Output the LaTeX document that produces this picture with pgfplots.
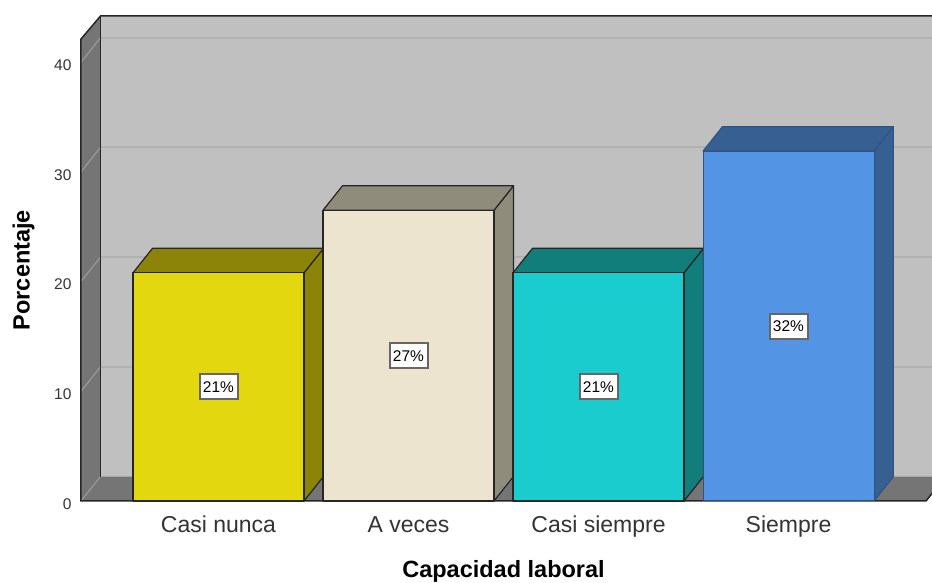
\documentclass[border=0pt]{standalone}
\usepackage{pgfplots}
\pgfplotsset{compat=1.18}
\usepackage{fontspec}
\setmainfont{Liberation Sans}
\definecolor{wallc}{HTML}{C0C0C0}
\definecolor{sidec}{HTML}{757575}
\definecolor{gridc}{HTML}{B2B2B2}
\definecolor{gridd}{HTML}{999999}
\definecolor{yelF}{HTML}{E3D80F}
\definecolor{yelD}{HTML}{8C8408}
\definecolor{creF}{HTML}{ECE4CF}
\definecolor{creD}{HTML}{908C7C}
\definecolor{teaF}{HTML}{1ACCCE}
\definecolor{teaD}{HTML}{117E7C}
\definecolor{bluF}{HTML}{5394E5}
\definecolor{bluD}{HTML}{365F92}
\definecolor{bluE}{HTML}{2F5380}
\definecolor{txt}{HTML}{333333}
\begin{document}
\begin{tikzpicture}[x=1pt,y=1pt]
\useasboundingbox (-81pt,-82pt) rectangle (851pt,501pt);
\begin{axis}[
  at={(0pt,0pt)}, anchor=south west,
  scale only axis, width=851pt, height=485pt,
  xmin=-0.7237, xmax=3.7553, ymin=0, ymax=44.21,
  clip=false,
  axis line style={draw=none},
  tick style={draw=none},
  xtick={0,1,2,3},
  xticklabels={Casi nunca,A veces,Casi siempre,Siempre},
  ytick={0,10,20,30,40},
  /pgf/number format/assume math mode=true,
  typeset ticklabels with strut,
  x tick label style={font=\fontsize{23}{25}\selectfont, text=txt, anchor=base, yshift=-32pt},
  y tick label style={font=\fontsize{15.5}{17}\selectfont, text=txt, anchor=east, xshift=-6pt, yshift=-5pt},
  xlabel={Capacidad laboral},
  ylabel={Porcentaje},
  every axis x label/.style={at={(axis description cs:0.4965,-0.1443)}, anchor=center, font=\fontsize{23.5}{26}\selectfont\bfseries},
  every axis y label/.style={at={(axis description cs:-0.0675,0.476)}, anchor=center, rotate=90, font=\fontsize{23.5}{26}\selectfont\bfseries},
]
% room walls and floor
\addplot[fill=wallc, draw=none] coordinates {(-0.6211,2.233) (3.7553,2.233) (3.7553,44.21) (-0.6211,44.21)} -- cycle;
\addplot[fill=sidec, draw=none] coordinates {(-0.7237,0) (-0.6211,2.233) (-0.6211,44.21) (-0.7237,42.11)} -- cycle;
\addplot[fill=sidec, draw=none] coordinates {(-0.7237,0) (3.7237,0) (3.7553,0.687) (3.7553,2.233) (-0.6211,2.233)} -- cycle;
% gridlines on the back wall and their returns on the side wall
\addplot[gridc, line width=1.8pt] coordinates {(-0.6211,12.233) (3.7553,12.233)};
\addplot[gridc, line width=1.8pt] coordinates {(-0.6211,22.233) (3.7553,22.233)};
\addplot[gridc, line width=1.8pt] coordinates {(-0.6211,32.233) (3.7553,32.233)};
\addplot[gridc, line width=1.8pt] coordinates {(-0.6211,42.233) (3.7553,42.233)};
\addplot[gridd, line width=1.2pt] coordinates {(-0.7237,0) (-0.6211,2.233)};
\addplot[gridd, line width=1.2pt] coordinates {(-0.7237,10) (-0.6211,12.233)};
\addplot[gridd, line width=1.2pt] coordinates {(-0.7237,20) (-0.6211,22.233)};
\addplot[gridd, line width=1.2pt] coordinates {(-0.7237,30) (-0.6211,32.233)};
\addplot[gridd, line width=1.2pt] coordinates {(-0.7237,40) (-0.6211,42.233)};
% room outline
\addplot[black!85, line width=1.5pt] coordinates {(3.7553,44.21) (-0.6211,44.21) (-0.7237,42.11) (-0.7237,0) (3.7237,0) (3.7553,0.687)};
\addplot[black!85, line width=1.5pt] coordinates {(-0.6211,44.21) (-0.6211,2.233)};
% Casi nunca
\addplot[fill=yelD, draw=black!85, line width=1.2pt, line join=round] coordinates {(0.45,0) (0.5526,2.233) (0.5526,23.033) (0.45,20.8)} -- cycle;
\addplot[fill=yelD, draw=black!85, line width=1.2pt, line join=round] coordinates {(-0.45,20.8) (0.45,20.8) (0.5526,23.033) (-0.3474,23.033)} -- cycle;
\addplot[fill=yelF, draw=black!85, line width=1.2pt, line join=round] coordinates {(-0.45,0) (0.45,0) (0.45,20.8) (-0.45,20.8)} -- cycle;
% A veces
\addplot[fill=creD, draw=black!85, line width=1.2pt, line join=round] coordinates {(1.45,0) (1.5526,2.233) (1.5526,28.733) (1.45,26.5)} -- cycle;
\addplot[fill=creD, draw=black!85, line width=1.2pt, line join=round] coordinates {(0.55,26.5) (1.45,26.5) (1.5526,28.733) (0.6526,28.733)} -- cycle;
\addplot[fill=creF, draw=black!85, line width=1.2pt, line join=round] coordinates {(0.55,0) (1.45,0) (1.45,26.5) (0.55,26.5)} -- cycle;
% Casi siempre
\addplot[fill=teaD, draw=black!85, line width=1.2pt, line join=round] coordinates {(2.45,0) (2.5526,2.233) (2.5526,23.033) (2.45,20.8)} -- cycle;
\addplot[fill=teaD, draw=black!85, line width=1.2pt, line join=round] coordinates {(1.55,20.8) (2.45,20.8) (2.5526,23.033) (1.6526,23.033)} -- cycle;
\addplot[fill=teaF, draw=black!85, line width=1.2pt, line join=round] coordinates {(1.55,0) (2.45,0) (2.45,20.8) (1.55,20.8)} -- cycle;
% Siempre
\addplot[fill=bluD, draw=bluE, line width=1pt, line join=round] coordinates {(3.45,0) (3.5526,2.233) (3.5526,34.133) (3.45,31.9)} -- cycle;
\addplot[fill=bluD, draw=bluE, line width=1pt, line join=round] coordinates {(2.55,31.9) (3.45,31.9) (3.5526,34.133) (2.6526,34.133)} -- cycle;
\addplot[fill=bluF, draw=bluE, line width=1pt, line join=round] coordinates {(2.55,0) (3.45,0) (3.45,31.9) (2.55,31.9)} -- cycle;
% percentage labels at mid height of each bar
\addplot[draw=none, mark=none, point meta=explicit symbolic,
  nodes near coords,
  every node near coord/.style={anchor=center, fill=white, draw=black!60, line width=2pt,
    minimum width=38pt, minimum height=25pt, inner sep=0pt, text=black,
    font=\fontsize{15.5}{17}\selectfont}]
  coordinates {(0,10.4)[21\%] (1,13.25)[27\%] (2,10.4)[21\%] (3,15.95)[32\%]};
\end{axis}
\end{tikzpicture}
\end{document}
